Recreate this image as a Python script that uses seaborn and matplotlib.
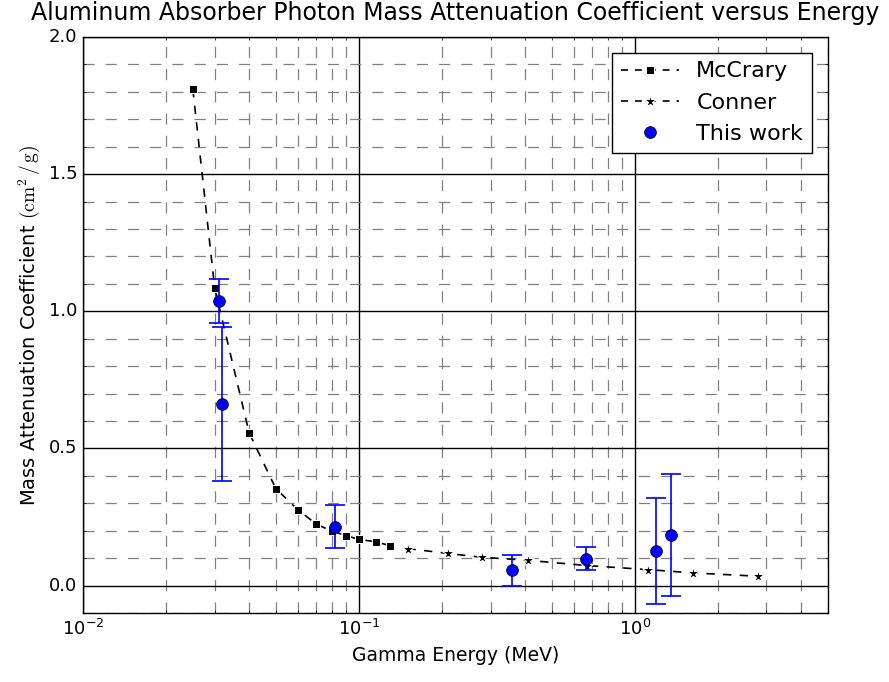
import matplotlib
matplotlib.use("Agg")
import matplotlib.pyplot as plt
import seaborn as sns
import numpy as np
from matplotlib.ticker import MultipleLocator, LogLocator

# Data
mccrary_e = [0.025, 0.03, 0.04, 0.05, 0.06, 0.07, 0.08, 0.09, 0.1, 0.115, 0.13]
mccrary_mu = [1.81, 1.085, 0.557, 0.353, 0.277, 0.224, 0.198, 0.182, 0.168, 0.16, 0.145]

conner_e = [0.15, 0.21, 0.28, 0.41, 0.67, 1.12, 1.63, 2.8]
conner_mu = [0.135, 0.117, 0.103, 0.092, 0.073, 0.058, 0.046, 0.034]

work_e = [0.0312, 0.032, 0.0818, 0.36, 0.668, 1.19, 1.355]
work_mu = [1.038, 0.663, 0.215, 0.055, 0.098, 0.127, 0.183]
work_err = [0.08, 0.28, 0.077, 0.055, 0.043, 0.193, 0.222]

plt.style.use("classic")
plt.rcParams["mathtext.fontset"] = "cm"
plt.rcParams["font.family"] = ["DejaVu Sans"]

fig = plt.figure(figsize=(8.89, 6.82), dpi=100, facecolor="white")
ax = fig.add_axes([0.0934, 0.1012, 0.8376, 0.8445])

sns.lineplot(x=mccrary_e, y=mccrary_mu, ax=ax, color="k", linewidth=1.2,
             dashes=False, marker="s", markersize=6, label="McCrary", sort=False)
sns.lineplot(x=conner_e, y=conner_mu, ax=ax, color="k", linewidth=1.2,
             dashes=False, marker="*", markersize=9.5, label="Conner", sort=False)
for ln in ax.get_lines():
    ln.set_dashes((6, 6))
ax.errorbar(work_e, work_mu, yerr=work_err, fmt="none", ecolor="b", capsize=7,
            elinewidth=1.2, capthick=1.2)
ax.plot(work_e, work_mu, "o", color="b", markeredgecolor="k", markersize=8.5,
        label="This work", linestyle="none")

ax.set_xscale("log")
ax.set_xlim(0.01, 5)
ax.set_ylim(-0.1, 2.0)
ax.yaxis.set_major_locator(MultipleLocator(0.5))
ax.yaxis.set_minor_locator(MultipleLocator(0.1))
ax.xaxis.set_minor_locator(LogLocator(base=10, subs=np.arange(2, 10)))

ax.grid(True, which="major", color="k", linestyle="-", linewidth=1)
ax.grid(True, which="minor", color="0.5", linestyle=(0, (8, 8)), linewidth=0.9)
ax.set_axisbelow(True)

ax.tick_params(labelsize=13)
ax.set_xlabel("Gamma Energy (MeV)", fontsize=13.5)
ax.set_ylabel(r"Mass Attenuation Coefficient $(\mathrm{cm}^2\,/\,\mathrm{g})$", fontsize=14)
ax.set_title("Aluminum Absorber Photon Mass Attenuation Coefficient versus Energy",
             fontsize=17, y=1.018)

leg = ax.legend(loc="upper right", numpoints=1, fontsize=16, framealpha=1,
                handlelength=2.6, borderaxespad=0.7)
for h in leg.get_lines()[:2]:
    h.set_dashes((5, 5))

fig.savefig("out.png", dpi=100, facecolor="white")
